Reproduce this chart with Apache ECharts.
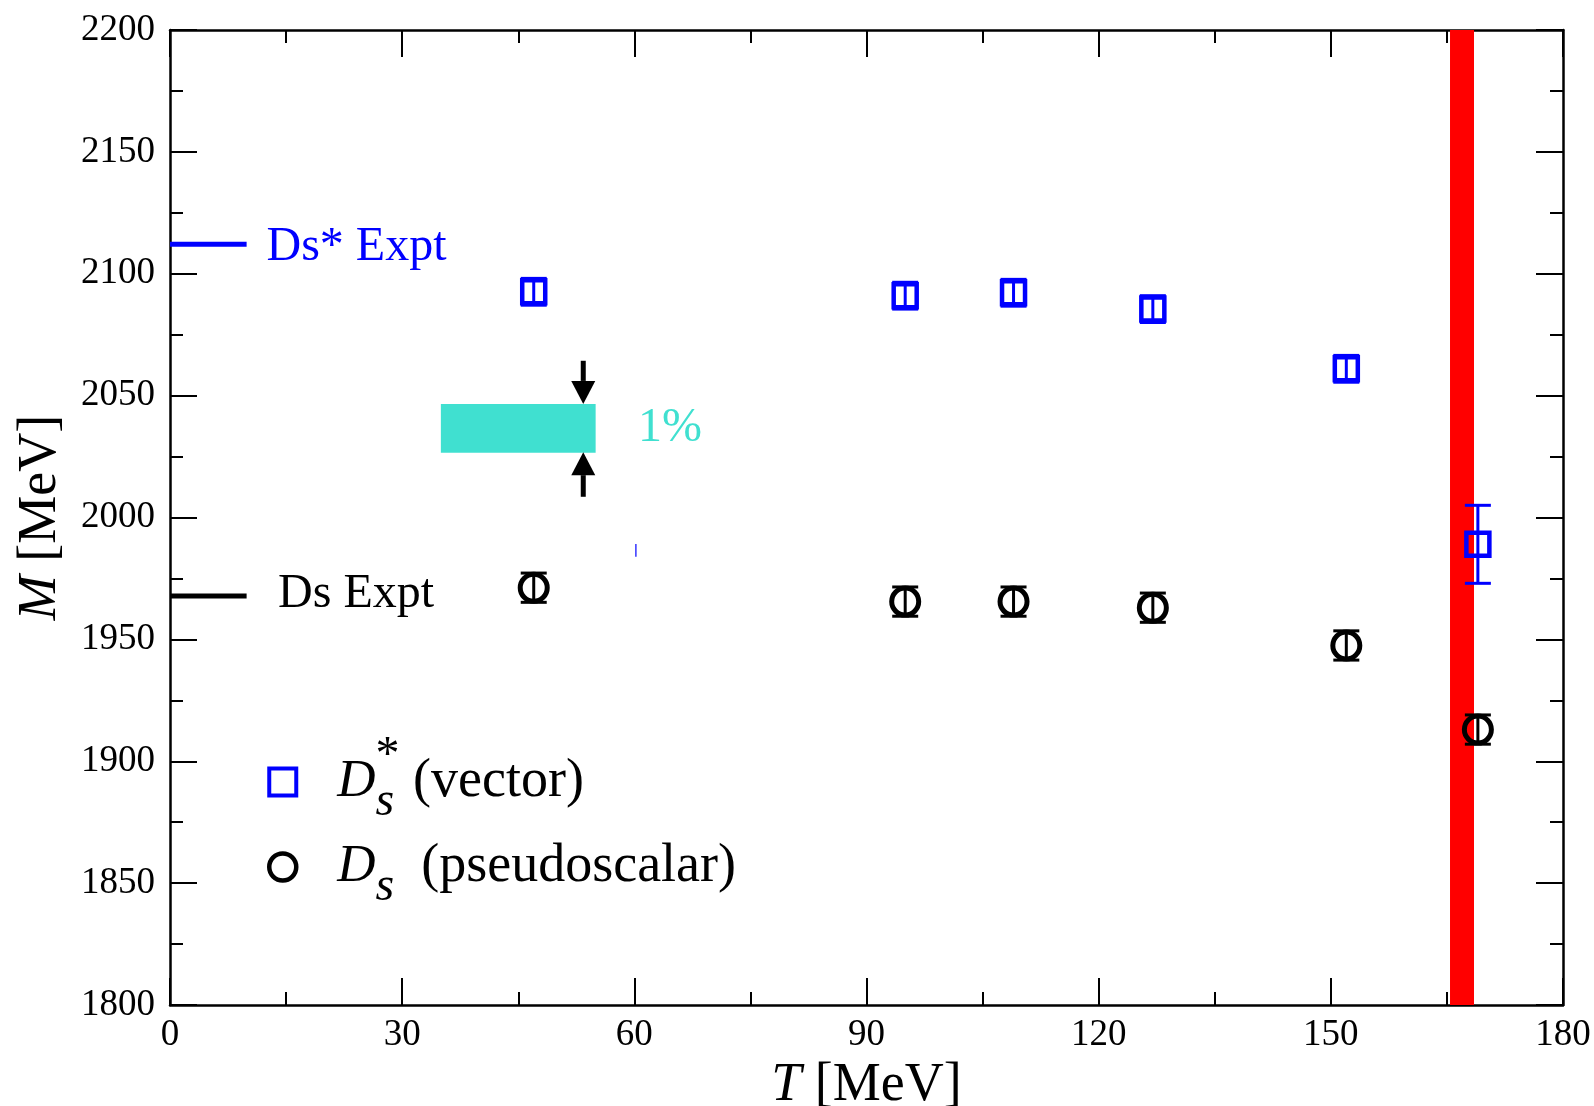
<!DOCTYPE html>
<html>
<head>
<meta charset="utf-8">
<script src="https://cdn.jsdelivr.net/npm/echarts@6/dist/echarts.min.js"></script>
<style>
  html, body { margin: 0; padding: 0; background: #fff; }
  #chart { width: 1594px; height: 1106px; }
</style>
</head>
<body>
<div id="chart"></div>
<script>
// temperatures [MeV]
const temps = [47, 95, 109, 127, 152, 169];
// D_s* (vector) masses and errors [MeV]
const vectorMass = [2092.6, 2091, 2092.2, 2085.5, 2061, 1989];
const vectorErr = [5.5, 5.5, 5.5, 5.5, 5.5, 16];
// D_s (pseudoscalar) masses and errors [MeV]
const pseudoMass = [1971.2, 1965.5, 1965.5, 1963, 1947.5, 1913];
const pseudoErr = [6, 6, 6, 6, 6, 6];

// experimental values
const exptNames = ['Ds* Expt', 'Ds Expt'];
const exptMass = [2112.1, 1967.8];
const exptEndT = 9.9;

// crossover band (T range) and 1% reference box
const tcBand = [165.4, 168.5];
const pctBoxT = [35, 55];
const pctBoxM = [2026.6, 2046.6];
// arrows: [T, start M, tip M]
const arrows = [[53.4, 2064.3, 2046.6], [53.4, 2008.5, 2026.8]];
// stray tiny tick [T, M low, M high]
const strayTick = [60.2, 1983.9, 1989.1];

const xTicks = [0, 30, 60, 90, 120, 150, 180];
const yTicks = [1800, 1850, 1900, 1950, 2000, 2050, 2100, 2150, 2200];

const serif = '"Liberation Serif", "DejaVu Serif", serif';
const blue = '#0000ff';
const black = '#000000';

const errRows = (mass, err) => temps.map((t, i) => [t, mass[i] - err[i], mass[i] + err[i]]);

const renderErrorBar = (params, api) => {
  const x = api.value(0);
  const top = api.coord([x, api.value(2)]);
  const bottom = api.coord([x, api.value(1)]);
  const half = 13;
  const style = { stroke: api.visual('color'), lineWidth: 3 };
  return {
    type: 'group',
    children: [
      { type: 'line', shape: { x1: top[0], y1: top[1], x2: bottom[0], y2: bottom[1] }, style },
      { type: 'line', shape: { x1: top[0] - half, y1: top[1], x2: top[0] + half, y2: top[1] }, style },
      { type: 'line', shape: { x1: bottom[0] - half, y1: bottom[1], x2: bottom[0] + half, y2: bottom[1] }, style },
    ],
  };
};

const renderArrow = (params, api) => {
  const from = api.coord([api.value(0), api.value(1)]);
  const tip = api.coord([api.value(0), api.value(2)]);
  const dir = Math.sign(tip[1] - from[1]);
  const base = tip[1] - dir * 23;
  return {
    type: 'group',
    children: [
      { type: 'line', shape: { x1: from[0], y1: from[1], x2: tip[0], y2: base }, style: { stroke: black, lineWidth: 5 } },
      {
        type: 'polygon',
        shape: { points: [[tip[0], tip[1]], [tip[0] - 12, base], [tip[0] + 12, base]] },
        style: { fill: black },
      },
    ],
  };
};

const axisCommon = {
  axisLine: { show: true, onZero: false, lineStyle: { color: black, width: 2.5 } },
  axisTick: { show: true, inside: true, length: 27, lineStyle: { color: black, width: 2 } },
  minorTick: { show: true, splitNumber: 2, length: 13, lineStyle: { color: black, width: 2 } },
  splitLine: { show: false },
  minorSplitLine: { show: false },
};

const labelStyle = { color: black, fontFamily: serif, fontSize: 37, formatter: (v) => String(v) };

const legendText = {
  vector: '{gap| }{d|D}{sub|s}{sup|*}{t| (vector)}',
  pseudo: '{gap| }{d|D}{s2|s}{t|  (pseudoscalar)}',
};

const option = {
  animation: false,
  backgroundColor: '#fff',
  grid: { left: 170, right: 31, top: 30, bottom: 101, containLabel: false, outerBoundsMode: 'none' },
  legend: {
    orient: 'vertical',
    left: 267,
    top: 732,
    padding: 0,
    itemGap: 14,
    itemWidth: 27,
    itemHeight: 27,
    selectedMode: false,
    data: [
      { name: 'vector', icon: 'rect', itemStyle: { color: 'rgba(0,0,0,0)', borderColor: blue, borderWidth: 4, opacity: 1 } },
      { name: 'pseudo', icon: 'circle', itemStyle: { color: 'rgba(0,0,0,0)', borderColor: black, borderWidth: 4.5, opacity: 1 } },
    ],
    formatter: (name) => legendText[name],
    textStyle: {
      color: black,
      fontFamily: serif,
      fontSize: 54,
      rich: {
        gap: { width: 36, fontSize: 54, lineHeight: 80 },
        d: { fontFamily: serif, fontSize: 53, fontStyle: 'italic', lineHeight: 80, color: black },
        sub: { fontFamily: serif, fontSize: 48, fontStyle: 'italic', verticalAlign: 'bottom', height: 40, width: 0, color: black },
        s2: { fontFamily: serif, fontSize: 48, fontStyle: 'italic', verticalAlign: 'bottom', height: 40, color: black },
        sup: { fontFamily: serif, fontSize: 48, verticalAlign: 'top', height: 28, color: black },
        t: { fontFamily: serif, fontSize: 54, lineHeight: 80, color: black },
      },
    },
  },
  xAxis: [
    {
      ...axisCommon,
      type: 'value',
      position: 'bottom',
      min: xTicks[0],
      max: xTicks[xTicks.length - 1],
      interval: 30,
      axisLabel: { ...labelStyle, margin: 12 },
      name: '{i|T} [MeV]',
      nameLocation: 'middle',
      nameGap: 47,
      nameTextStyle: {
        color: black, fontFamily: serif, fontSize: 54,
        rich: { i: { fontFamily: serif, fontSize: 54, fontStyle: 'italic', color: black } },
      },
    },
    {
      ...axisCommon,
      type: 'value',
      position: 'top',
      min: xTicks[0],
      max: xTicks[xTicks.length - 1],
      interval: 30,
      axisLabel: { show: false },
    },
  ],
  yAxis: [
    {
      ...axisCommon,
      type: 'value',
      position: 'left',
      min: yTicks[0],
      max: yTicks[yTicks.length - 1],
      interval: 50,
      axisLabel: { ...labelStyle, margin: 15 },
      name: '{i|M} [MeV]',
      nameLocation: 'middle',
      nameGap: 102,
      nameTextStyle: {
        color: black, fontFamily: serif, fontSize: 54,
        rich: { i: { fontFamily: serif, fontSize: 54, fontStyle: 'italic', color: black } },
      },
    },
    {
      ...axisCommon,
      type: 'value',
      position: 'right',
      min: yTicks[0],
      max: yTicks[yTicks.length - 1],
      interval: 50,
      axisLabel: { show: false },
    },
  ],
  series: [
    {
      name: 'bands',
      type: 'line',
      data: [],
      silent: true,
      z: 1,
      markArea: {
        silent: true,
        label: { show: false },
        data: [
          [{ xAxis: tcBand[0], itemStyle: { color: '#ff0000', opacity: 1 } }, { xAxis: tcBand[1] }],
          [{ coord: [pctBoxT[0], pctBoxM[0]], itemStyle: { color: '#40e0d0', opacity: 1 } }, { coord: [pctBoxT[1], pctBoxM[1]] }],
        ],
      },
    },
    ...exptNames.map((name, i) => ({
      name: name,
      type: 'line',
      data: [[0, exptMass[i]], [exptEndT, exptMass[i]]],
      showSymbol: false,
      silent: true,
      z: 3,
      lineStyle: { color: i === 0 ? blue : black, width: 5 },
    })),
    {
      name: 'notes',
      type: 'scatter',
      symbolSize: 1,
      silent: true,
      z: 4,
      itemStyle: { color: 'rgba(0,0,0,0)', opacity: 1 },
      label: { show: true, position: 'right', distance: 0, fontFamily: serif, fontSize: 48 },
      data: [
        { value: [12.4, 2110.8], label: { formatter: exptNames[0], color: blue } },
        { value: [13.9, 1968.6], label: { formatter: exptNames[1], color: black } },
        { value: [60.4, 2036.5], label: { formatter: '1%', color: '#40e0d0' } },
      ],
    },
    {
      name: 'arrows',
      type: 'custom',
      silent: true,
      z: 4,
      renderItem: renderArrow,
      encode: { x: 0, y: [1, 2] },
      data: arrows,
    },
    {
      name: 'stray',
      type: 'line',
      data: [[strayTick[0], strayTick[1]], [strayTick[0], strayTick[2]]],
      showSymbol: false,
      silent: true,
      z: 4,
      lineStyle: { color: blue, width: 1.5, opacity: 0.8 },
    },
    {
      name: 'vectorErr',
      type: 'custom',
      silent: true,
      z: 5,
      itemStyle: { color: blue, opacity: 1 },
      renderItem: renderErrorBar,
      encode: { x: 0, y: [1, 2] },
      data: errRows(vectorMass, vectorErr),
    },
    {
      name: 'pseudoErr',
      type: 'custom',
      silent: true,
      z: 5,
      itemStyle: { color: black, opacity: 1 },
      renderItem: renderErrorBar,
      encode: { x: 0, y: [1, 2] },
      data: errRows(pseudoMass, pseudoErr),
    },
    {
      name: 'vector',
      type: 'scatter',
      symbol: 'rect',
      symbolSize: 23,
      z: 6,
      itemStyle: { color: 'rgba(0,0,0,0)', borderColor: blue, borderWidth: 4.5, opacity: 1 },
      data: temps.map((t, i) => [t, vectorMass[i]]),
    },
    {
      name: 'pseudo',
      type: 'scatter',
      symbol: 'circle',
      symbolSize: 27,
      z: 6,
      itemStyle: { color: 'rgba(0,0,0,0)', borderColor: black, borderWidth: 5, opacity: 1 },
      data: temps.map((t, i) => [t, pseudoMass[i]]),
    },
  ],
};

const chart = echarts.init(document.getElementById('chart'));
chart.setOption(option);
</script>
</body>
</html>
